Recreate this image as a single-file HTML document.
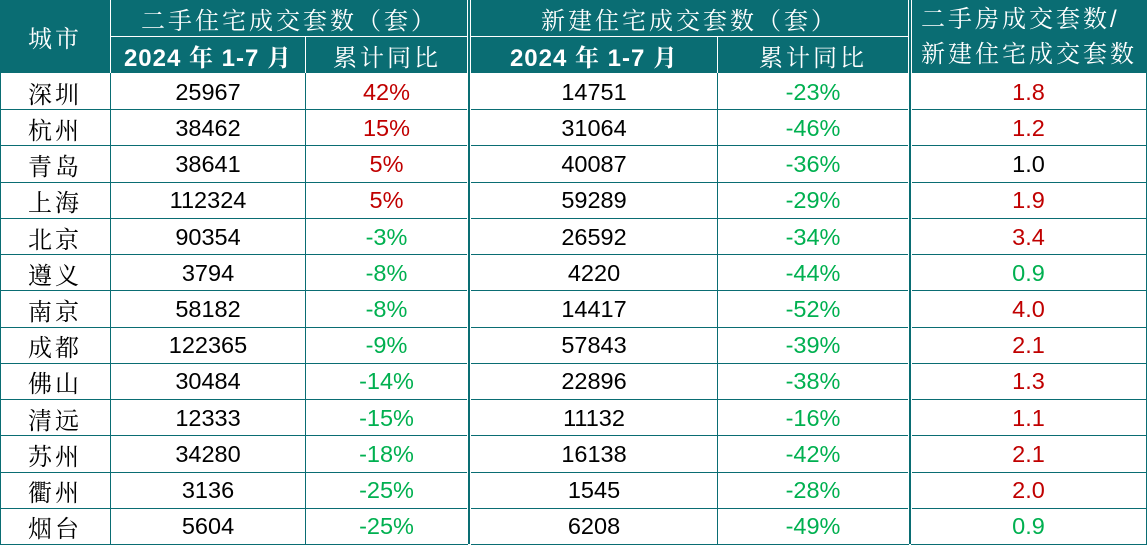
<!DOCTYPE html><html><head><meta charset="utf-8"><style>
body{margin:0;width:1147px;height:544px;overflow:hidden;background:#fff;font-family:"Liberation Sans","Noto Serif CJK SC",sans-serif}
.c{position:absolute;display:flex;align-items:center;justify-content:center;box-sizing:border-box}
.h{background:#0a6d73;color:#fff;font-family:"Liberation Sans","Noto Serif CJK SC",serif;font-size:24px;letter-spacing:3px}
.d{font-size:23.5px;color:#000;border-bottom:1px solid #0a6d73;border-right:1px solid #0a6d73;padding-top:2px}
.city{font-family:"Noto Serif CJK SC",serif;letter-spacing:3px;font-size:24px}
.r{color:#c00000}.g{color:#00b050}
</style></head><body>
<div class="c h" style="left:0;top:0;width:110px;height:73px">城市</div>
<div class="c h" style="left:111px;top:0;width:357px;height:36px">二手住宅成交套数（套）</div>
<div class="c h" style="left:111px;top:37px;width:194px;height:36px;font-weight:bold;letter-spacing:1px">2024 年 1-7 月</div>
<div class="c h" style="left:306px;top:37px;width:162px;height:36px">累计同比</div>
<div class="c h" style="left:471px;top:0;width:437px;height:36px">新建住宅成交套数（套）</div>
<div class="c h" style="left:471px;top:37px;width:246px;height:36px;font-weight:bold;letter-spacing:1px">2024 年 1-7 月</div>
<div class="c h" style="left:718px;top:37px;width:190px;height:36px">累计同比</div>
<div class="c h" style="left:911px;top:0;width:236px;height:73px;flex-direction:column;line-height:35px">二手房成交套数/<br>新建住宅成交套数</div>
<div id="t"></div>
<div style="position:absolute;left:0;top:73px;width:1px;height:471px;background:#0a6d73"></div>
<div style="position:absolute;left:1146px;top:73px;width:1px;height:471px;background:#0a6d73"></div>
<div style="position:absolute;left:467px;top:0;width:2px;height:544px;background:#0a6d73;border-left:1px solid #fff;border-right:1px solid #fff"></div>
<div style="position:absolute;left:908px;top:0;width:2px;height:544px;background:#0a6d73;border-left:1px solid #fff;border-right:1px solid #fff"></div>
<script>
const D=[["深圳",25967,"42%",14751,"-23%","1.8"],["杭州",38462,"15%",31064,"-46%","1.2"],["青岛",38641,"5%",40087,"-36%","1.0"],["上海",112324,"5%",59289,"-29%","1.9"],["北京",90354,"-3%",26592,"-34%","3.4"],["遵义",3794,"-8%",4220,"-44%","0.9"],["南京",58182,"-8%",14417,"-52%","4.0"],["成都",122365,"-9%",57843,"-39%","2.1"],["佛山",30484,"-14%",22896,"-38%","1.3"],["清远",12333,"-15%",11132,"-16%","1.1"],["苏州",34280,"-18%",16138,"-42%","2.1"],["衢州",3136,"-25%",1545,"-28%","2.0"],["烟台",5604,"-25%",6208,"-49%","0.9"]];
const X=[[0,111],[111,306],[306,468],[471,718],[718,909],[911,1147]];
let h="";const rh=(544-73)/13;
D.forEach((r,i)=>{const y=73+i*rh;r.forEach((v,j)=>{let cls="c d";if(j==0)cls+=" city";
if(j==2||j==4)cls+=String(v)[0]=="-"?" g":" r";
if(j==5){const n=parseFloat(v);cls+=n>1?" r":n<1?" g":"";}
h+=`<div class="${cls}" style="left:${X[j][0]}px;top:${y}px;width:${X[j][1]-X[j][0]}px;height:${rh+1}px">${v}</div>`;});});
document.getElementById("t").innerHTML=h;
</script>
</body></html>
